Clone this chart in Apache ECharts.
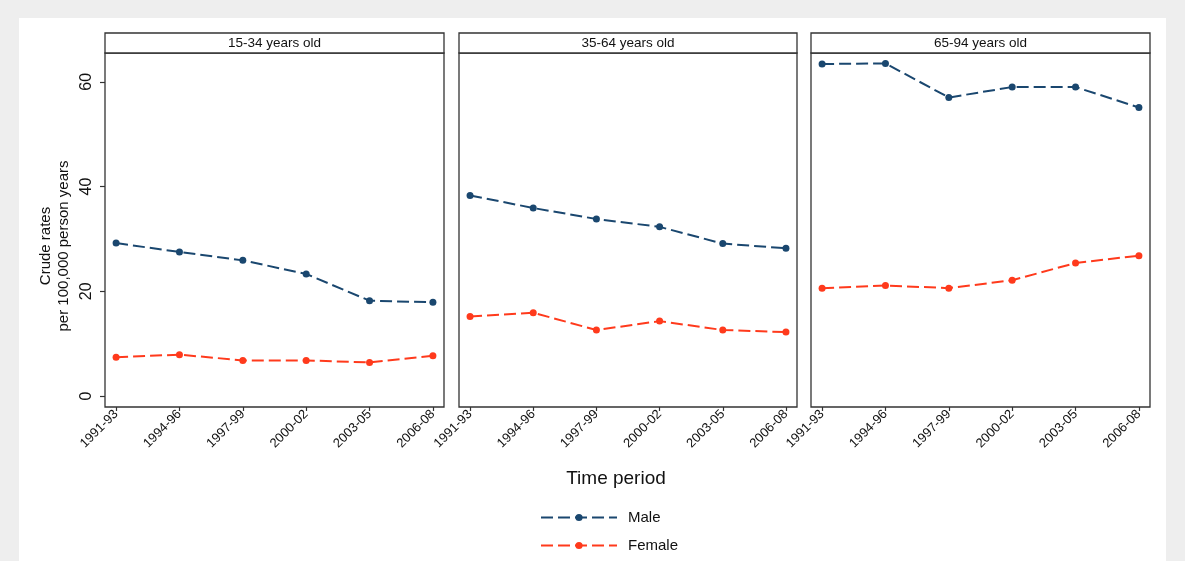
<!DOCTYPE html>
<html>
<head>
<meta charset="utf-8">
<script src="https://cdn.jsdelivr.net/npm/echarts@6/dist/echarts.min.js"></script>
<style>
  html, body { margin: 0; padding: 0; background: #eeeeee; }
  #paper { position: absolute; left: 19px; top: 18px; width: 1147px; height: 543px; background: #fff; }
  #chart { position: absolute; left: 0; top: 0; width: 1185px; height: 561px; }
</style>
</head>
<body>
<div id="paper"></div>
<div id="chart"></div>
<script>
// periods on the x axis
const periods = ['1991-93', '1994-96', '1997-99', '2000-02', '2003-05', '2006-08']
// age groups (one panel each)
const ageGroups = ['15-34 years old', '35-64 years old', '65-94 years old']
// crude rates per 100,000 person years
const male1534 = [29.2, 27.5, 25.9, 23.3, 18.2, 17.9]
const female1534 = [7.4, 7.9, 6.8, 6.8, 6.4, 7.7]
const male3564 = [38.3, 35.9, 33.8, 32.3, 29.1, 28.2]
const female3564 = [15.2, 15.9, 12.6, 14.3, 12.6, 12.2]
const male6594 = [63.4, 63.5, 57.0, 59.0, 59.0, 55.1]
const female6594 = [20.6, 21.1, 20.6, 22.1, 25.4, 26.8]
const yTicks = [0, 20, 40, 60]

const maleData = [male1534, male3564, male6594]
const femaleData = [female1534, female3564, female6594]

const navy = '#1a476f'
const red = '#ff3a1c'
const font = "'Liberation Sans', Arial, Helvetica, sans-serif"

// panel boxes (plot region)
const panels = [
  { left: 105, width: 339 },
  { left: 459, width: 338 },
  { left: 811, width: 339 }
]
const plotTop = 53
const plotBottom = 407
const stripTop = 33

let chart = echarts.init(document.getElementById('chart'))

let grids = [], xAxes = [], yAxes = [], series = [], graphics = []
panels.forEach((p, i) => {
  grids.push({
    left: p.left, top: plotTop, width: p.width, height: plotBottom - plotTop,
    show: true, borderColor: '#333', borderWidth: 1.3, backgroundColor: '#fff'
  })
  xAxes.push({
    type: 'value', gridIndex: i, min: -0.175, max: 5.175,
    axisLine: { show: false, onZero: false },
    splitLine: { show: false },
    axisTick: { show: true, length: 4, lineStyle: { color: '#333', width: 1.2 }, customValues: [0, 1, 2, 3, 4, 5] },
    axisLabel: {
      customValues: [0, 1, 2, 3, 4, 5],
      formatter: v => periods[v],
      rotate: 45, fontSize: 13, color: '#111', fontFamily: font, margin: 5
    }
  })
  yAxes.push({
    type: 'value', gridIndex: i, min: -2.1, max: 65.5,
    axisLine: { show: false, onZero: false },
    splitLine: { show: false },
    axisTick: { show: i === 0, length: 5, lineStyle: { color: '#333', width: 1.2 }, customValues: yTicks },
    axisLabel: {
      show: i === 0, customValues: yTicks, rotate: 90,
      fontSize: 16, color: '#111', fontFamily: font, margin: 10
    },
    name: i === 0 ? 'Crude rates\nper 100,000 person years' : '',
    nameLocation: 'middle', nameGap: 32, nameRotate: 90,
    nameTextStyle: { fontSize: 15, color: '#111', fontFamily: font, lineHeight: 18, padding: [0, 32, 0, 0] }
  })
  series.push({
    name: 'Male', type: 'line', xAxisIndex: i, yAxisIndex: i,
    data: maleData[i].map((v, k) => [k, v]),
    symbol: 'circle', symbolSize: 7,
    itemStyle: { color: navy },
    lineStyle: { color: navy, width: 2, type: [12, 5] }
  })
  series.push({
    name: 'Female', type: 'line', xAxisIndex: i, yAxisIndex: i,
    data: femaleData[i].map((v, k) => [k, v]),
    symbol: 'circle', symbolSize: 7,
    itemStyle: { color: red },
    lineStyle: { color: red, width: 2, type: [12, 5] }
  })
  // header strip
  graphics.push({
    type: 'rect',
    shape: { x: p.left, y: stripTop, width: p.width, height: plotTop - stripTop },
    style: { fill: '#fff', stroke: '#333', lineWidth: 1.3 }
  })
  graphics.push({
    type: 'text',
    x: p.left + p.width / 2, y: (stripTop + plotTop) / 2,
    style: { text: ageGroups[i], fontSize: 13.5, fontFamily: font, fill: '#111', align: 'center', verticalAlign: 'middle' }
  })
})

let option = {
  animation: false,
  title: {
    text: 'Time period', left: 611, top: 464, textAlign: 'center',
    textStyle: { fontSize: 19, fontWeight: 'normal', color: '#111', fontFamily: font }
  },
  legend: {
    data: ['Male', 'Female'],
    orient: 'vertical', left: 535, top: 505,
    itemWidth: 76, itemHeight: 9, itemGap: 13,
    textStyle: { fontSize: 15, color: '#111', fontFamily: font, padding: [0, 0, 0, 6] }
  },
  grid: grids,
  xAxis: xAxes,
  yAxis: yAxes,
  series: series,
  graphic: graphics
}
chart.setOption(option)
</script>
</body>
</html>
